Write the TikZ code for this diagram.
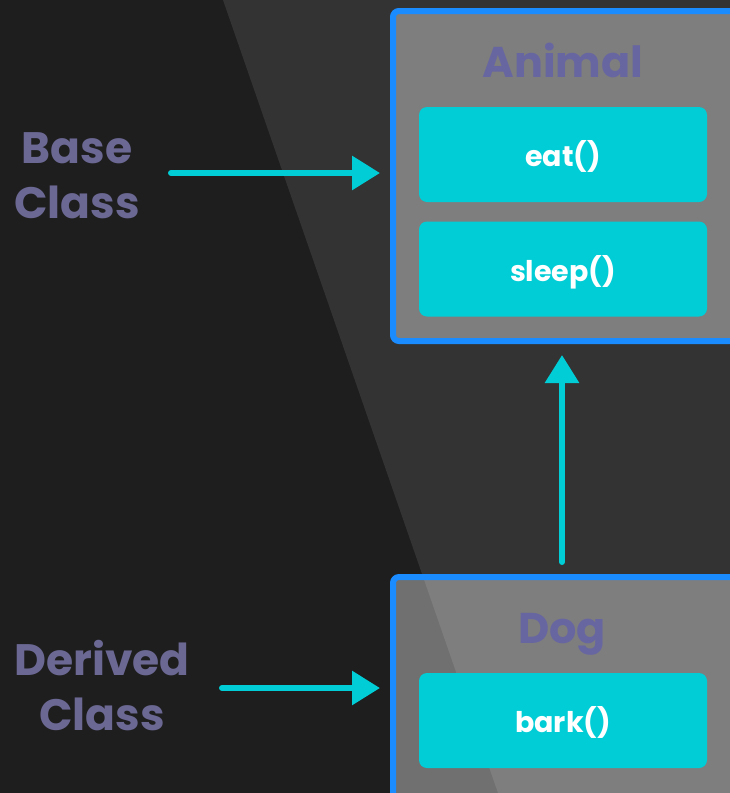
\documentclass[tikz,border=0pt]{standalone}
\usepackage{fontspec}
\setmainfont{Poppins}
\usetikzlibrary{arrows.meta}
\definecolor{bgdark}{HTML}{1E1E1E}
\definecolor{bglight}{HTML}{333333}
\definecolor{boxblue}{HTML}{1A8CFF}
\definecolor{cyanbox}{HTML}{00CDD6}
\definecolor{labelpurple}{HTML}{6B6894}
\definecolor{titlepurple}{HTML}{6866A0}
\tikzset{
  classbox/.style={draw=boxblue, line width=6pt, rounded corners=6pt,
    fill=white, fill opacity=0.37, minimum width=374pt, inner sep=0pt},
  methodbox/.style={fill=cyanbox, rounded corners=8pt, minimum width=288pt,
    minimum height=95pt, inner sep=0pt, text=white,
    font=\fontsize{28.5}{32}\selectfont\bfseries, text height=24pt, text depth=0pt},
  titletext/.style={text=titlepurple, font=\fontsize{43}{48}\selectfont\bfseries, anchor=base, inner sep=0pt},
  sidetext/.style={text=labelpurple, font=\fontsize{44}{50}\selectfont\bfseries, anchor=base, inner sep=0pt},
  arr/.style={draw=cyanbox, line width=6pt, line cap=round,
    -{Triangle[length=28pt,width=33pt]}},
}
\begin{document}
\begin{tikzpicture}[x=1pt,y=-1pt]
\useasboundingbox (0,0) rectangle (730,793);
\clip (0,0) rectangle (730,793);
\fill[bgdark] (0,0) rectangle (730,793);
\fill[bglight] (223,0) -- (730,0) -- (730,793) -- (498,793) -- cycle;

% class boxes
\node[classbox, minimum height=330pt] (animal) at (580,176) {};
\node[classbox, minimum height=250pt] (dog) at (580,702) {};

\node[titletext] (animaltitle) at (563,77) {Animal};
\node[titletext] (dogtitle) at (562,643) {Dog};

\node[methodbox] (eat) at (563,154.5) {eat()};
\node[methodbox] (sleep) at (563,269) {sleep()};
\node[methodbox] (bark) at (563,720.5) {bark()};

% side labels
\node[sidetext] (base1) at (77,163) {Base};
\node[sidetext] (base2) at (77,218) {Class};
\node[sidetext] (der1) at (102,675) {Derived};
\node[sidetext] (der2) at (102,730) {Class};

% arrows
\coordinate (basetail) at (171,173);
\coordinate (dertail) at (222,688);
\coordinate (upx) at (562,0);
\draw[arr, shorten >=10pt] (basetail) -- (basetail -| animal.west);
\draw[arr, shorten >=10pt] (dertail) -- (dertail -| dog.west);
\draw[arr, shorten <=12pt, shorten >=11pt] (upx |- dog.north) -- (upx |- animal.south);
\end{tikzpicture}
\end{document}
